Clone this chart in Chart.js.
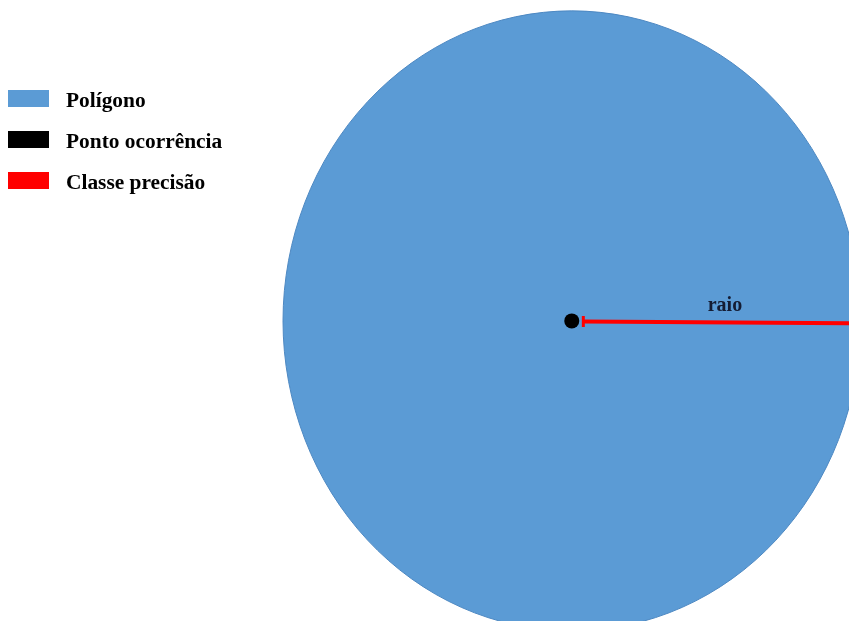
<!DOCTYPE html>
<html lang="pt">
<head>
<meta charset="utf-8">
<title>Polígono e classe de precisão</title>
<script src="https://cdn.jsdelivr.net/npm/chart.js@4/dist/chart.umd.min.js"></script>
<style>
  html, body { margin: 0; padding: 0; background: #fff; }
  #wrap { position: relative; width: 849px; height: 621px; overflow: hidden; }
  #legend {
    position: absolute; left: 8px; top: 90px; margin: 0; padding: 0; list-style: none;
    font: bold 21.4px 'Liberation Serif', 'Times New Roman', serif; color: #000;
  }
  #legend li { display: flex; align-items: center; height: 17px; margin-bottom: 24px; }
  #legend span { display: inline-block; width: 41px; height: 17px; margin-right: 17px; }
  #legend em { font-style: normal; position: relative; top: 2px; }
</style>
</head>
<body>
<div id="wrap">
  <canvas id="mapa"></canvas>
  <ul id="legend"></ul>
</div>
<script>
/* legenda + valores */
var categories = ['Polígono', 'Ponto ocorrência', 'Classe precisão'];
var colors = ['#5b9bd5', '#000000', '#ff0000'];

var ponto = [0, 0];            // ponto de ocorrência (x, y)
var raio = [1];                // raio da classe de precisão
var linhaX = [0.04, 1];        // linha do raio: início, fim
var linhaY = [-0.002, -0.008];
var rotulo = ['raio'];

// polígono = buffer do ponto com o raio, desenhado pelas escalas
var poligonoPlugin = {
  id: 'poligono',
  beforeDatasetsDraw: function(chart) {
    var x = chart.scales.x, y = chart.scales.y, ctx = chart.ctx;
    var cx = x.getPixelForValue(ponto[0]);
    var cy = y.getPixelForValue(ponto[1]);
    var rx = x.getPixelForValue(ponto[0] + raio[0]) - cx;
    var ry = cy - y.getPixelForValue(ponto[1] + raio[0]);
    ctx.save();
    ctx.beginPath();
    ctx.ellipse(cx, cy, rx, ry, 0, 0, 2 * Math.PI);
    ctx.fillStyle = colors[0];
    ctx.fill();
    ctx.lineWidth = 1;
    ctx.strokeStyle = '#4d88c2';
    ctx.stroke();
    ctx.restore();
  }
};

var rotuloPlugin = {
  id: 'rotulo',
  afterDatasetsDraw: function(chart) {
    var pts = chart.getDatasetMeta(1).data;
    var ctx = chart.ctx;
    ctx.save();
    ctx.font = 'bold 20px "Liberation Serif", "Times New Roman", serif';
    ctx.fillStyle = '#141c33';
    ctx.textAlign = 'center';
    ctx.textBaseline = 'alphabetic';
    ctx.fillText(rotulo[0], (pts[0].x + pts[1].x) / 2 + 3, (pts[0].y + pts[1].y) / 2 - 11);
    ctx.restore();
  }
};

new Chart(document.getElementById('mapa'), {
  type: 'scatter',
  data: {
    datasets: [
      {
        label: categories[1],
        data: [{ x: ponto[0], y: ponto[1] }],
        backgroundColor: colors[1],
        borderWidth: 0,
        pointRadius: 7.5
      },
      {
        label: categories[2],
        data: linhaX.map(function(v, i) { return { x: v, y: linhaY[i] }; }),
        showLine: true,
        borderColor: colors[2],
        borderWidth: 4,
        pointStyle: 'line',
        pointRotation: 90,
        pointRadius: [5.5, 0],
        pointBorderWidth: 3,
        pointBorderColor: colors[2]
      }
    ]
  },
  options: {
    responsive: true,
    maintainAspectRatio: false,
    animation: false,
    events: [],
    layout: { padding: 0, autoPadding: false },
    plugins: { legend: { display: false }, tooltip: { enabled: false } },
    scales: {
      x: { display: false, min: -1.98, max: 0.96 },
      y: { display: false, min: -0.968, max: 1.035 }
    }
  },
  plugins: [poligonoPlugin, rotuloPlugin]
});

// legenda em HTML
var ul = document.getElementById('legend');
categories.forEach(function(c, i) {
  var li = document.createElement('li');
  var box = document.createElement('span');
  var txt = document.createElement('em');
  box.style.background = colors[i];
  txt.textContent = c;
  li.appendChild(box);
  li.appendChild(txt);
  ul.appendChild(li);
});
</script>
</body>
</html>
